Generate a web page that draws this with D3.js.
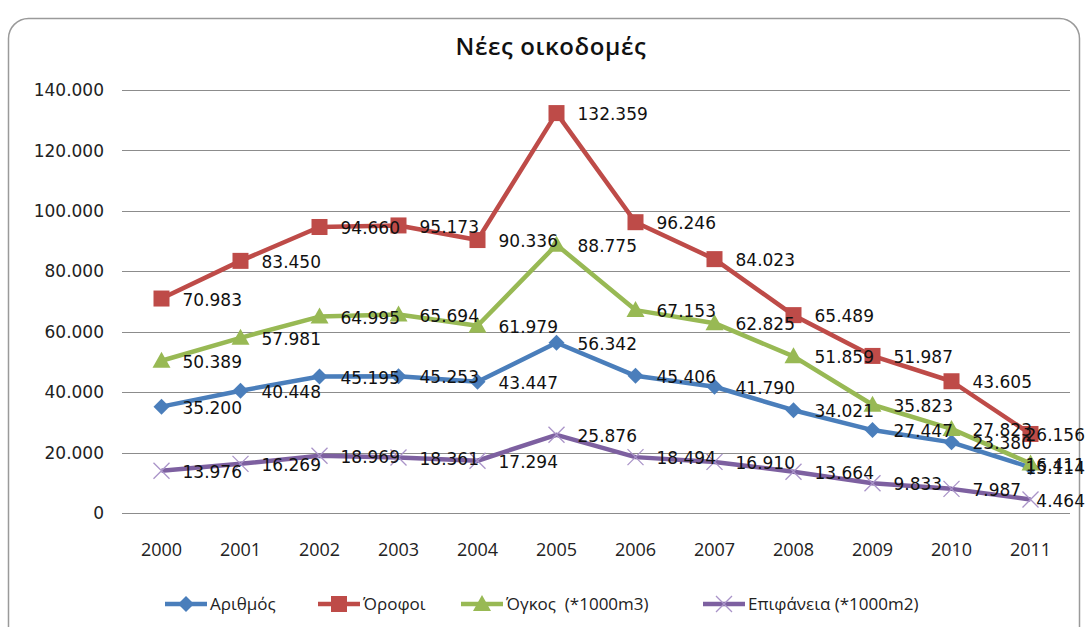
<!doctype html>
<html lang="el">
<head>
  <meta charset="utf-8">
  <title>Νέες οικοδομές</title>
  <style>
    body { margin: 0; background: #fff; }
    svg { display: block; }
    .grid line { stroke: #8c8c8c; stroke-width: 1px; }
    .ylab { font-family: "DejaVu Sans", sans-serif; font-size: 17px; fill: #222; }
    .xlab { font-family: "Open Sans", sans-serif; font-size: 18px; fill: #222; }
    .dlab { font-family: "DejaVu Sans", sans-serif; font-size: 17px; fill: #111; }
    .title { font-family: "Open Sans", sans-serif; font-size: 24px; font-weight: 600; fill: #111; letter-spacing: 0.6px; }
    .legend text { font-family: "Open Sans", sans-serif; font-size: 17px; fill: #222; white-space: pre; }
  </style>
</head>
<body>
  <svg id="chart" width="1085" height="627"></svg>
  <script src="https://cdnjs.cloudflare.com/ajax/libs/d3/7.8.5/d3.min.js"></script>
  <script>
    var years = ["2000", "2001", "2002", "2003", "2004", "2005", "2006", "2007", "2008", "2009", "2010", "2011"]
    var arithmos = [35200, 40448, 45195, 45253, 43447, 56342, 45406, 41790, 34021, 27447, 23380, 15114]
    var orofoi = [70983, 83450, 94660, 95173, 90336, 132359, 96246, 84023, 65489, 51987, 43605, 26156]
    var ogkos = [50389, 57981, 64995, 65694, 61979, 88775, 67153, 62825, 51859, 35823, 27823, 16411]
    var epifaneia = [13976, 16269, 18969, 18361, 17294, 25876, 18494, 16910, 13664, 9833, 7987, 4464]
    var yTicks = [0, 20000, 40000, 60000, 80000, 100000, 120000, 140000]
    var seriesNames = ["Αριθμός", "Όροφοι", "Όγκος  (*1000m3)", "Επιφάνεια (*1000m2)"]

    var series = [
      {name: seriesNames[0], values: arithmos, color: "#4a7ebb", marker: "diamond"},
      {name: seriesNames[1], values: orofoi, color: "#be4b48", marker: "square"},
      {name: seriesNames[2], values: ogkos, color: "#98b954", marker: "triangle"},
      {name: seriesNames[3], values: epifaneia, color: "#7d60a0", marker: "cross"}
    ]

    var svg = d3.select("#chart")
    var plotLeft = 122, plotRight = 1070, plotTop = 90, plotBottom = 513

    // chart frame
    svg.append("rect")
      .attr("x", 8.5).attr("y", 18.5)
      .attr("width", 1071).attr("height", 640)
      .attr("rx", 20)
      .attr("fill", "#fff")
      .attr("stroke", "#9a9a9a")
      .attr("stroke-width", 1.5)

    svg.append("text").attr("class", "title")
      .attr("x", 551).attr("y", 55)
      .attr("text-anchor", "middle")
      .text("Νέες οικοδομές")

    var x = d3.scaleBand().domain(years).range([plotLeft, plotRight])
    var y = d3.scaleLinear().domain([0, 140000]).range([plotBottom, plotTop])
    var loc = d3.formatLocale({decimal: ",", thousands: ".", grouping: [3], currency: ["", "€"]})
    var fmt = loc.format(",d")

    var grid = svg.append("g").attr("class", "grid")
    grid.selectAll("line").data(yTicks).enter().append("line")
      .attr("x1", plotLeft).attr("x2", plotRight)
      .attr("y1", function(d) { return Math.round(y(d)) + 0.5 })
      .attr("y2", function(d) { return Math.round(y(d)) + 0.5 })

    svg.append("g").selectAll("text").data(yTicks).enter().append("text")
      .attr("class", "ylab")
      .attr("x", 104)
      .attr("y", function(d) { return y(d) })
      .attr("dy", "0.36em")
      .attr("text-anchor", "end")
      .text(function(d) { return fmt(d) })

    svg.append("g").selectAll("text").data(years).enter().append("text")
      .attr("class", "xlab")
      .attr("x", function(d) { return x(d) + x.bandwidth() / 2 })
      .attr("y", 556)
      .attr("text-anchor", "middle")
      .text(function(d) { return d })

    var cx = function(d, i) { return x(years[i]) + x.bandwidth() / 2 }
    var line = d3.line().x(cx).y(function(d) { return y(d) })

    function drawMarker(g, type, color) {
      if (type === "diamond") {
        g.append("path").attr("d", "M0,-8L8,0L0,8L-8,0Z").attr("fill", color)
      } else if (type === "square") {
        g.append("rect").attr("x", -8).attr("y", -8).attr("width", 16).attr("height", 16).attr("fill", color)
      } else if (type === "triangle") {
        g.append("path").attr("d", "M0,-9L9,7L-9,7Z").attr("fill", color)
      } else {
        g.append("path").attr("d", "M-8,-8L8,8M-8,8L8,-8")
          .attr("stroke", "#a993c8").attr("stroke-width", 1.3).attr("fill", "none")
      }
    }

    series.forEach(function(s) {
      var g = svg.append("g")
      g.append("path").datum(s.values)
        .attr("d", line)
        .attr("fill", "none")
        .attr("stroke", s.color)
        .attr("stroke-width", 4.5)
        .attr("stroke-linejoin", "round")
      g.selectAll("g.m").data(s.values).enter().append("g")
        .attr("class", "m")
        .attr("transform", function(d, i) { return "translate(" + cx(d, i) + "," + y(d) + ")" })
        .each(function() { drawMarker(d3.select(this), s.marker, s.color) })
    })

    // data labels to the right of each point, pushed back inside the chart edge
    series.forEach(function(s) {
      svg.append("g").selectAll("text").data(s.values).enter().append("text")
        .attr("class", "dlab")
        .attr("y", function(d) { return y(d) + 1 })
        .attr("dy", "0.36em")
        .text(function(d) { return fmt(d) })
        .attr("x", function(d, i) {
          var w = this.getComputedTextLength()
          return Math.min(cx(d, i) + 21, 1085 - w)
        })
    })

    // legend
    var legX = [165, 318, 461, 703]
    var leg = svg.append("g").attr("class", "legend")
    series.forEach(function(s, i) {
      var g = leg.append("g").attr("transform", "translate(" + legX[i] + ",604)")
      g.append("line").attr("x1", 0).attr("x2", 42)
        .attr("stroke", s.color).attr("stroke-width", 4.5)
      var m = g.append("g").attr("transform", "translate(21,0)")
      drawMarker(m, s.marker, s.color)
      g.append("text").attr("x", 45).attr("dy", "0.35em").text(s.name)
    })
  </script>
</body>
</html>
